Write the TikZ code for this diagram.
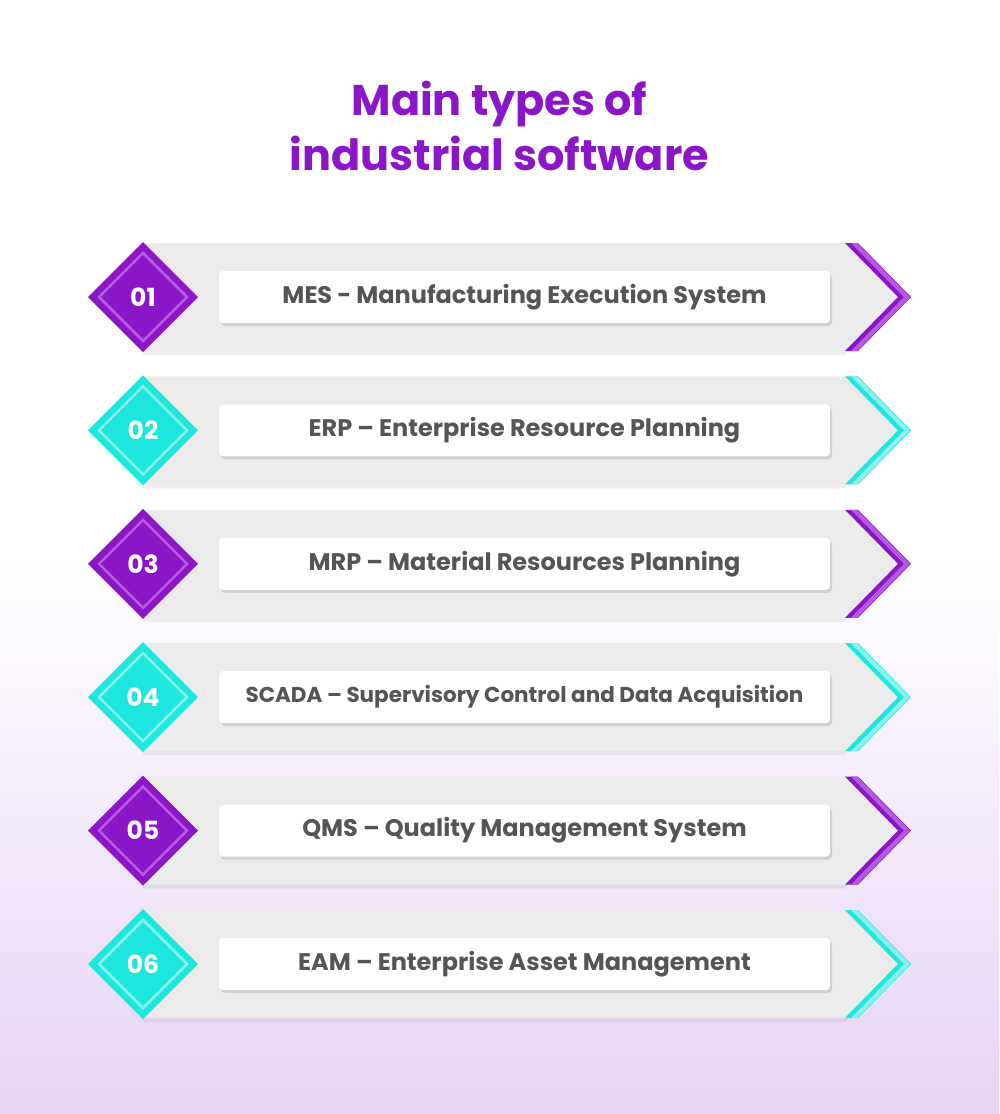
\documentclass[tikz,border=0pt]{standalone}
\usepackage{fontspec}
\setmainfont{Poppins}
\usetikzlibrary{shadows}
\definecolor{pur}{HTML}{8B16C8}
\definecolor{purl}{HTML}{B45BE0}
\definecolor{cya}{HTML}{1DE6DC}
\definecolor{cyal}{HTML}{8AF2EC}
\definecolor{band}{HTML}{EBEBEB}
\definecolor{txt}{HTML}{555555}
\definecolor{bgb}{HTML}{E6D4F3}
\tikzset{
  lab/.style={fill=white,rounded corners=4pt,minimum width=611pt,minimum height=52pt,
    text=txt,
    drop shadow={shadow xshift=2pt,shadow yshift=-3pt,opacity=0.25}},
  num/.style={font=\fontsize{25pt}{27pt}\selectfont\bfseries,text=white}
}
\begin{document}
\begin{tikzpicture}[x=1pt,y=-1pt]
\shade[top color=white,bottom color=bgb,middle color=white] (0,0) rectangle (999,1114);
\useasboundingbox (0,0) rectangle (999,1114);
\node[font=\fontsize{43pt}{55pt}\selectfont\bfseries,text=pur,align=center] (title) at (499.5,126) {Main types of\\industrial software};
\foreach \i/\t/\c/\cl/\fs in {1/MES - Manufacturing Execution System/pur/purl/24,
  2/ERP – Enterprise Resource Planning/cya/cyal/24,
  3/MRP – Material Resources Planning/pur/purl/24,
  4/SCADA – Supervisory Control and Data Acquisition/cya/cyal/21.5,
  5/QMS – Quality Management System/pur/purl/24,
  6/EAM – Enterprise Asset Management/cya/cyal/24}{
  \pgfmathsetmacro{\y}{297+133.4*(\i-1)}
  \fill[band,drop shadow={shadow xshift=0pt,shadow yshift=-4pt,opacity=0.12}] (143,\y-54) -- (845,\y-54) -- (898,\y) -- (845,\y+54) -- (143,\y+54) -- cycle;
  \fill[\c] (845,\y-54) -- (858,\y-54) -- (911,\y) -- (858,\y+54) -- (845,\y+54) -- (898,\y) -- cycle;
  \fill[\cl] (851,\y-54) -- (857,\y-54) -- (910,\y) -- (904,\y) -- cycle;
  \fill[\cl] (904,\y) -- (910,\y) -- (857,\y+54) -- (851,\y+54) -- cycle;
  \fill[\c] (143,\y-55) -- (198,\y) -- (143,\y+55) -- (88,\y) -- cycle;
  \draw[\cl,line width=2.5pt] (143,\y-44) -- (187,\y) -- (143,\y+44) -- (99,\y) -- cycle;
  \node[num] (n\i) at (143,\y) {0\i};
  \node[lab,font=\fontsize{\fs pt}{26pt}\selectfont\bfseries] (l\i) at (524.5,\y) {\t};
}
\end{tikzpicture}
\end{document}
